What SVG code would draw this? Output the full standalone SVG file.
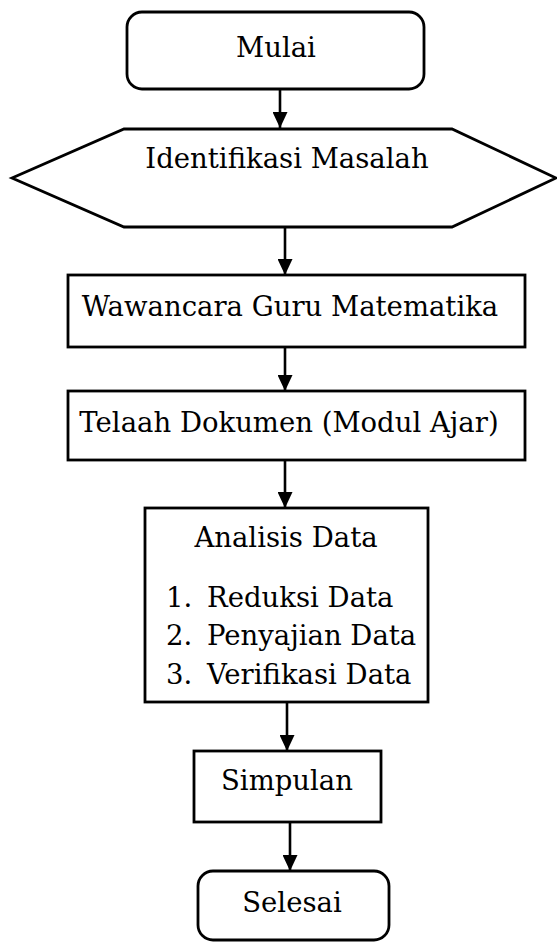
<svg xmlns="http://www.w3.org/2000/svg" width="557" height="945" viewBox="0 0 557 945">
  <style>
    .box { fill: #ffffff; stroke: #000000; stroke-width: 2.8; stroke-linejoin: miter; }
    .lbl { font-family: "DejaVu Serif", "Liberation Serif", serif; font-size: 27.5px; fill: #000000; }
    .mid { text-anchor: middle; }
    .edge { stroke: #000000; stroke-width: 2.6; fill: none; marker-end: url(#head); }
  </style>
  <defs>
    <marker id="head" markerUnits="userSpaceOnUse" markerWidth="16" markerHeight="15" refX="16" refY="7.5" orient="auto">
      <path d="M0,0 L16,7.5 L0,15 Z" fill="#000000"/>
    </marker>
  </defs>

  <!-- flow connectors -->
  <g id="connectors">
    <line class="edge" x1="280" y1="89" x2="280" y2="128"/>
    <line class="edge" x1="285" y1="227" x2="285" y2="275"/>
    <line class="edge" x1="285" y1="347" x2="285" y2="391"/>
    <line class="edge" x1="285" y1="460" x2="285" y2="508"/>
    <line class="edge" x1="287" y1="702" x2="287" y2="751"/>
    <line class="edge" x1="290" y1="822" x2="290" y2="871"/>
  </g>

  <g id="mulai">
    <rect class="box" x="127" y="12" width="297" height="77" rx="15" ry="15"/>
    <text class="lbl mid" x="276" y="57">Mulai</text>
  </g>

  <g id="identifikasi">
    <polygon class="box" points="12,178 124,129 452,129 556,178 452,227 124,227"/>
    <text class="lbl mid" x="287" y="168">Identifikasi Masalah</text>
  </g>

  <g id="wawancara">
    <rect class="box" x="68" y="275" width="457" height="72"/>
    <text class="lbl mid" x="290" y="316">Wawancara Guru Matematika</text>
  </g>

  <g id="telaah">
    <rect class="box" x="68" y="391" width="457" height="69"/>
    <text class="lbl mid" x="289" y="432">Telaah Dokumen (Modul Ajar)</text>
  </g>

  <g id="analisis">
    <rect class="box" x="145" y="508" width="283" height="194"/>
    <text class="lbl mid" x="286" y="547">Analisis Data</text>
    <text class="lbl" x="166" y="607">1.</text>
    <text class="lbl" x="207" y="607">Reduksi Data</text>
    <text class="lbl" x="166" y="645">2.</text>
    <text class="lbl" x="207" y="645">Penyajian Data</text>
    <text class="lbl" x="166" y="684">3.</text>
    <text class="lbl" x="207" y="684">Verifikasi Data</text>
  </g>

  <g id="simpulan">
    <rect class="box" x="194" y="751" width="187" height="71"/>
    <text class="lbl mid" x="287" y="790">Simpulan</text>
  </g>

  <g id="selesai">
    <rect class="box" x="198" y="871" width="191" height="69" rx="15" ry="15"/>
    <text class="lbl mid" x="292" y="912">Selesai</text>
  </g>
</svg>
